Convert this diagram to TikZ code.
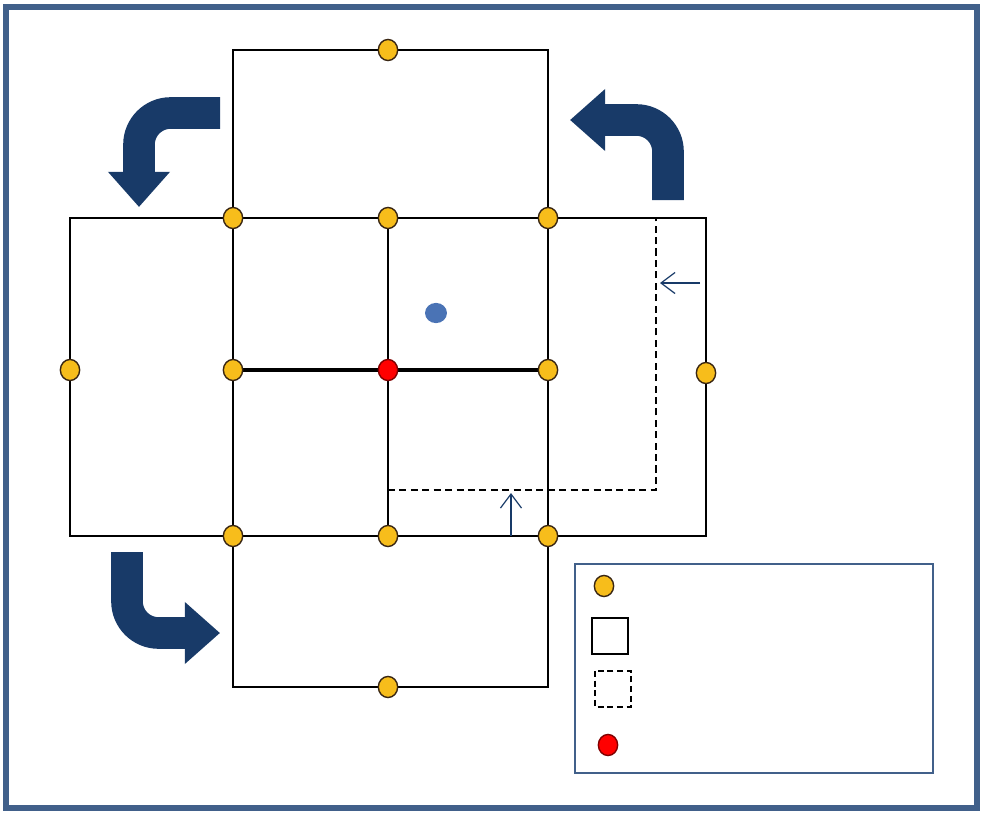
\documentclass[tikz,border=0pt]{standalone}
\usetikzlibrary{arrows.meta, shapes.geometric, positioning}
\definecolor{framecol}{HTML}{41608A}
\definecolor{navyarrow}{HTML}{183A68}
\definecolor{dotorange}{HTML}{F7BD1B}
\definecolor{dotblue}{HTML}{4A73B5}
\tikzset{
  gridline/.style={black, line width=1.2pt},
  vertex/.style={ellipse, draw=black!70!brown, line width=0.8pt, fill=dotorange,
    minimum width=11pt, minimum height=12pt, inner sep=0pt},
  redvertex/.style={vertex, fill=red, draw=red!50!black},
  turnarrow/.style={navyarrow, line width=18pt, rounded corners=18pt,
    -{Triangle[width=34pt, length=20pt]}},
  shiftarrow/.style={navyarrow, line width=0.7pt, -{Straight Barb[width=12pt, length=8pt]}},
}

\begin{document}
\begin{tikzpicture}[x=0.02cm, y=-0.02cm]
\useasboundingbox (0,0) rectangle (985,815);

% outer frame
\draw[framecol, line width=3.4pt] (6,7) rectangle (977,808);

% grid points
\coordinate (top) at (388,50);
\coordinate (b1) at (233,218);
\coordinate (c1) at (388,218);
\coordinate (d1) at (548,218);
\coordinate (a2) at (70,370);
\coordinate (b2) at (233,370);
\coordinate (c2) at (388,370);
\coordinate (d2) at (548,370);
\coordinate (e2) at (706,373);
\coordinate (b3) at (233,536);
\coordinate (c3) at (388,536);
\coordinate (d3) at (548,536);
\coordinate (bot) at (388,687);

% cells
\draw[gridline] (233,50) rectangle (548,218);
\draw[gridline] (70,218) rectangle (706,536);
\draw[gridline] (233,536) rectangle (548,687);
\draw[gridline] (b1) -- (b3);
\draw[gridline] (c1) -- (c3);
\draw[gridline] (d1) -- (d3);
\draw[black, line width=2.4pt] (b2) -- (d2);

% shifted cell
\draw[black, line width=0.9pt, dash pattern=on 4pt off 2.5pt] (388,490) -- (656,490) -- (656,218);
\draw[shiftarrow] (700,283) -- (660,283);
\draw[shiftarrow] (511,536) -- (511,493);

% points
\foreach \p in {top,b1,c1,d1,a2,b2,d2,e2,b3,c3,d3,bot}
  \node[vertex] (n-\p) at (\p) {};
\node[redvertex] (n-c2) at (c2) {};
\node[ellipse, fill=dotblue, minimum width=12.5pt, minimum height=11.5pt, inner sep=0pt] (blue) at (436,313) {};

% rotation arrows
\draw[turnarrow] (220,113) -- (139,113) -- (139,207);
\draw[turnarrow] (668,200) -- (668,120) -- (570,120);
\draw[turnarrow] (127,552) -- (127,633) -- (220,633);

% legend
\draw[framecol, line width=0.9pt] (575,564) rectangle (933,773);
\node[vertex] (leg-dot) at (604,586) {};
\draw[black, line width=1.3pt] (592,618) rectangle (628,654);
\draw[black, line width=1.1pt, dash pattern=on 3.5pt off 2pt] (595,671) rectangle (631,707);
\node[redvertex] (leg-red) at (608,745) {};
\end{tikzpicture}
\end{document}
